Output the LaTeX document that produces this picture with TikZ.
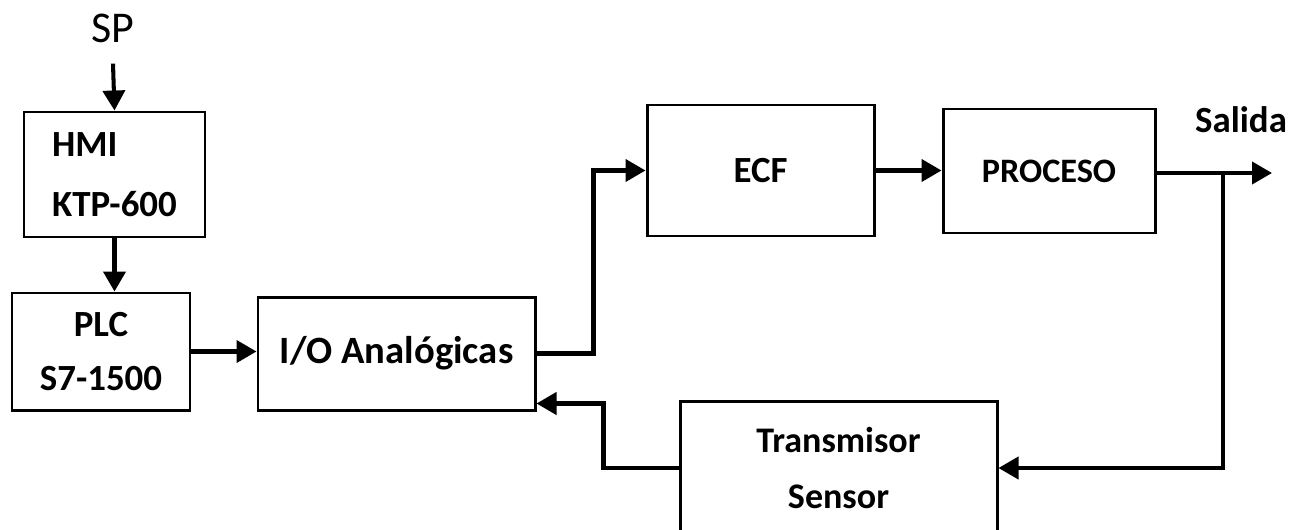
\documentclass[tikz,border=0pt]{standalone}
\usepackage{fontspec}
\setmainfont{Carlito}
\usepackage{xcolor}
\usepackage{tikz}
\usetikzlibrary{arrows.meta, positioning, calc}

\begin{document}
\begin{tikzpicture}[
    block/.style={draw, line width=1.7pt, minimum width=#1, inner sep=0pt},
    lbl/.style={font=\bfseries\fontsize{21}{25}\selectfont},
    arr/.style={-{Triangle[length=0.4cm, width=0.44cm]}, line width=2.3pt},
    wire/.style={line width=2.3pt}
]
    \useasboundingbox (0,0) rectangle (25.9,10.58);
    % blocks
    \node[font=\fontsize{25}{30}\selectfont] (sp) at (2.26,10.02) {SP};
    \node[block=3.62cm, minimum height=2.5cm, align=left, font=\bfseries\fontsize{21}{34}\selectfont] (hmi) at (2.29,7.09) {HMI\\KTP-600};
    \node[block=3.56cm, minimum height=2.34cm, align=center, font=\bfseries\fontsize{21}{30.7}\selectfont] (plc) at (2.02,3.55) {PLC\\S7-1500};
    \node[block=5.54cm, minimum height=2.26cm, font=\bfseries\fontsize{22}{26}\selectfont] (io) at (7.93,3.51) {I/O Analógicas};
    \node[block=4.54cm, minimum height=2.62cm, lbl] (ecf) at (15.21,7.17) {ECF};
    \node[block=4.24cm, minimum height=2.48cm, font=\bfseries\fontsize{19.5}{23}\selectfont] (proc) at (20.98,7.16) {PROCESO};
    \node[block=6.34cm, minimum height=2.68cm, align=center, font=\bfseries\fontsize{20.5}{31.8}\selectfont] (tx) at (16.77,1.22) {Transmisor\\Sensor};
    \node[lbl] (out) at (24.82,8.18) {Salida};
    \coordinate (y) at (25.44,7.12);
    \coordinate (br) at (24.46,7.12);

    % connections
    \draw[arr] ([yshift=-0.3cm]sp.south) -- (hmi.north);
    \draw[arr] (hmi.south) -- (hmi.south |- plc.north);
    \draw[arr] (plc.east) -- (plc.east -| io.west);
    \draw[arr] (io.east) -- ++(1.14,0) |- (ecf.west);
    \draw[arr] (ecf.east) -- (ecf.east -| proc.west);
    \draw[arr] (proc.east |- y) -- (y);
    \draw[arr] (br) |- (tx.east);
    \draw[arr] (tx.west) -- ++(-1.5,0) |- ([yshift=-1cm]io.east);
\end{tikzpicture}
\end{document}
